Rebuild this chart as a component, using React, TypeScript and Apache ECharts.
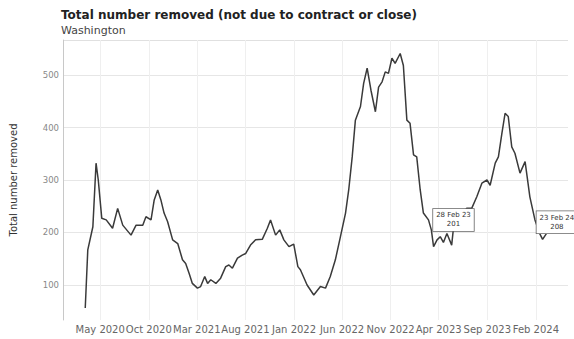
import { useEffect, useRef } from "react";
import * as echarts from "echarts";

const dates = [
  "2020-03-15", "2020-03-23", "2020-04-08", "2020-04-18", "2020-04-25", "2020-05-06", "2020-05-20",
  "2020-06-09", "2020-06-25", "2020-07-11", "2020-08-06", "2020-08-22", "2020-09-12", "2020-09-22",
  "2020-10-08", "2020-10-18", "2020-10-29", "2020-11-08", "2020-11-18", "2020-11-29", "2020-12-15",
  "2020-12-31", "2021-01-15", "2021-01-25", "2021-02-05", "2021-02-15", "2021-03-03", "2021-03-13",
  "2021-03-26", "2021-04-04", "2021-04-14", "2021-04-30", "2021-05-15", "2021-05-31", "2021-06-10",
  "2021-06-21", "2021-07-07", "2021-07-22", "2021-08-02", "2021-08-17", "2021-09-02", "2021-09-23",
  "2021-10-09", "2021-10-19", "2021-11-04", "2021-11-17", "2021-11-30", "2021-12-16", "2021-12-31",
  "2022-01-13", "2022-01-21", "2022-02-11", "2022-03-04", "2022-03-25", "2022-04-10", "2022-04-25",
  "2022-05-11", "2022-05-27", "2022-06-12", "2022-06-22", "2022-07-03", "2022-07-13", "2022-07-29",
  "2022-08-08", "2022-08-19", "2022-08-31", "2022-09-14", "2022-09-24", "2022-10-05", "2022-10-15",
  "2022-10-25", "2022-11-05", "2022-11-15", "2022-12-01", "2022-12-11", "2022-12-22", "2023-01-01",
  "2023-01-12", "2023-01-22", "2023-02-02", "2023-02-12", "2023-02-28", "2023-03-09", "2023-03-16",
  "2023-03-27", "2023-04-06", "2023-04-16", "2023-04-27", "2023-05-12", "2023-05-17", "2023-06-07",
  "2023-06-28", "2023-07-14", "2023-07-30", "2023-08-15", "2023-08-31", "2023-09-10", "2023-09-26",
  "2023-10-06", "2023-10-17", "2023-10-27", "2023-11-06", "2023-11-17", "2023-11-27", "2023-12-13",
  "2023-12-29", "2024-01-13", "2024-01-29", "2024-02-13", "2024-02-22", "2024-03-05",
];

const values = [
  56, 167, 211, 332, 300, 227, 224,
  208, 246, 214, 195, 214, 214, 230,
  224, 262, 281, 262, 237, 221, 186,
  179, 148, 141, 122, 103, 94, 97,
  116, 103, 110, 103, 113, 135, 138,
  132, 151, 157, 160, 176, 186, 187,
  208, 224, 195, 205, 186, 173, 178,
  135, 129, 100, 81, 97, 94, 116,
  148, 192, 237, 281, 344, 414, 440,
  484, 513, 471, 430, 477, 487, 506,
  503, 532, 522, 541, 518, 414, 408,
  348, 344, 281, 237, 224, 205, 173,
  186, 192, 181, 198, 176, 205, 228,
  246, 246, 268, 294, 300, 290, 332,
  344, 389, 427, 421, 363, 351, 313,
  335, 268, 224, 198, 187, 198,
];

const tickDates = [
  "2020-05-01", "2020-10-01", "2021-03-01", "2021-08-01", "2022-01-01",
  "2022-06-01", "2022-11-01", "2023-04-01", "2023-09-01", "2024-02-01",
];

const annotationDates = ["2023-02-28", "2024-02-23"];
const annotationValues = [201, 208];
const annotationLabels = ["28 Feb 23", "23 Feb 24"];

const MONTHS = ["Jan", "Feb", "Mar", "Apr", "May", "Jun", "Jul", "Aug", "Sep", "Oct", "Nov", "Dec"];
const FONT = "DejaVu Sans";

export default function App() {
  const ref = useRef<HTMLDivElement>(null);

  useEffect(() => {
    const chart = echarts.init(ref.current!, null, { renderer: "svg" });
    const tickValues = tickDates.map((d) => Date.parse(d));
    const offsets = [[25, -12], [14, -6]];

    chart.setOption({
      animation: false,
      backgroundColor: "#ffffff",
      textStyle: { fontFamily: FONT },
      title: [
        {
          text: "Total number removed (not due to contract or close)",
          left: 61,
          top: 9,
          padding: 0,
          textStyle: { fontFamily: FONT, fontSize: 12, fontWeight: "bold", color: "#222" },
        },
        {
          text: "Washington",
          left: 61,
          top: 25,
          padding: 0,
          textStyle: { fontFamily: FONT, fontSize: 11, fontWeight: "normal", color: "#444" },
        },
      ],
      grid: { left: 62, right: 6, top: 40, bottom: 19, containLabel: false },
      xAxis: {
        type: "value",
        min: Date.parse("2020-01-05"),
        max: Date.parse("2024-05-12"),
        axisLine: { show: false },
        axisTick: { show: false, customValues: tickValues },
        splitLine: { show: true, lineStyle: { color: "#efefef", width: 1 } },
        axisLabel: {
          customValues: tickValues,
          showMinLabel: true,
          showMaxLabel: true,
          margin: 4,
          fontSize: 10,
          color: "#666",
          fontFamily: FONT,
          hideOverlap: false,
          formatter: (val: number) => {
            const d = new Date(val);
            return `${MONTHS[d.getUTCMonth()]} ${d.getUTCFullYear()}`;
          },
        },
      },
      yAxis: {
        type: "value",
        min: 33.3,
        max: 566.7,
        splitNumber: 5,
        name: "Total number removed",
        nameLocation: "middle",
        nameRotate: 90,
        nameGap: 45,
        nameTextStyle: { fontFamily: FONT, fontSize: 10, color: "#333" },
        axisLine: { show: true, lineStyle: { color: "#c8c8c8", width: 1 } },
        axisTick: { show: false },
        axisLabel: {
          showMinLabel: false,
          showMaxLabel: false,
          margin: 4,
          fontSize: 8.5,
          color: "#888",
          fontFamily: FONT,
        },
        splitLine: {
          show: true,
          lineStyle: {
            color: ["rgba(0,0,0,0)", "#e6e6e6", "#e6e6e6", "#e6e6e6", "#e6e6e6", "#e6e6e6", "#e0e0e0"],
            width: 1,
          },
        },
      },
      series: [
        {
          type: "line",
          data: dates.map((d, i) => [Date.parse(d), values[i]]),
          showSymbol: false,
          symbol: "none",
          lineStyle: { color: "#3a3a3a", width: 1.5 },
          itemStyle: { color: "#3a3a3a" },
          markPoint: {
            symbol: "circle",
            symbolSize: 0,
            silent: true,
            data: annotationDates.map((d, i) => ({
              coord: [Date.parse(d), annotationValues[i]],
              value: annotationValues[i],
              label: {
                show: true,
                position: "inside",
                offset: offsets[i],
                formatter: `${annotationLabels[i]}\n${annotationValues[i]}`,
                fontFamily: FONT,
                fontSize: 7,
                lineHeight: 9,
                color: "#333",
                align: "center",
                backgroundColor: "#ffffff",
                borderColor: "#666",
                borderWidth: 0.8,
                padding: [2, 3],
              },
            })),
          },
        },
      ],
    });

    return () => chart.dispose();
  }, []);

  return (
    <div
      ref={ref}
      style={{ position: "fixed", left: 0, top: 0, width: 574, height: 339 }}
    />
  );
}
